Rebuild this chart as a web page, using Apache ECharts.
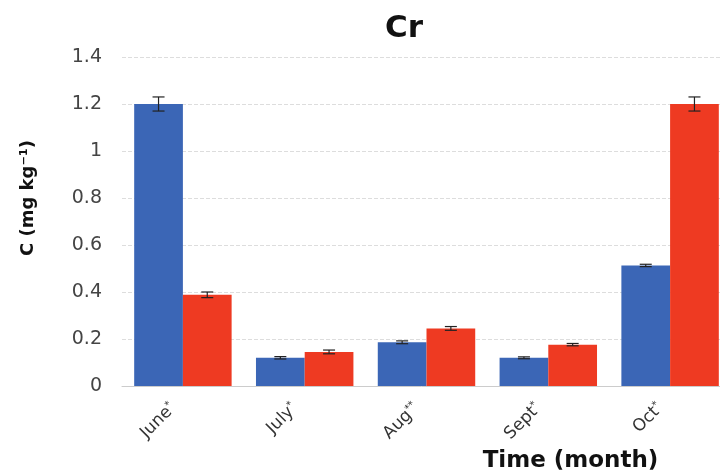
<!DOCTYPE html>
<html><head><meta charset="utf-8">
<script src="https://cdn.jsdelivr.net/npm/echarts@6/dist/echarts.min.js"></script>
<style>html,body{margin:0;padding:0;background:#fff}#c{width:720px;height:475px}</style>
</head><body><div id="c"></div>
<script>
const categories = ['June', 'July', 'Aug', 'Sept', 'Oct'];
const marks = ['*', '*', '**', '*', '*'];
const seriesA = [1.2, 0.12, 0.186, 0.12, 0.513];
const seriesB = [0.388, 0.145, 0.245, 0.176, 1.2];
const errA = [0.03, 0.005, 0.006, 0.004, 0.005];
const errB = [0.012, 0.008, 0.008, 0.005, 0.03];
const yTicks = [0, 0.2, 0.4, 0.6, 0.8, 1, 1.2, 1.4];

const blue = '#3b66b6', red = '#ee3a22';
const catGap = 0.2;
const FONT = 'DejaVu Sans, Liberation Sans, sans-serif';

function errSeries(vals, errs, side) {
  return {
    type: 'custom',
    z: 10,
    data: vals.map((v, i) => [i, v, errs[i]]),
    renderItem: function (params, api) {
      const i = api.value(0), v = api.value(1), e = api.value(2);
      const band = api.size([1, 0])[0];
      const bw = band * (1 - catGap) / 2;
      const c = api.coord([i, v]);
      const x = c[0] + side * bw / 2;
      const top = api.coord([i, v + e])[1];
      const bot = api.coord([i, v - e])[1];
      const cap = 6;
      const st = { stroke: '#222', lineWidth: 1.2 };
      return { type: 'group', children: [
        { type: 'line', shape: { x1: x, y1: top, x2: x, y2: bot }, style: st },
        { type: 'line', shape: { x1: x - cap, y1: top, x2: x + cap, y2: top }, style: st },
        { type: 'line', shape: { x1: x - cap, y1: bot, x2: x + cap, y2: bot }, style: st }
      ]};
    }
  };
}

const chart = echarts.init(document.getElementById('c'));
chart.setOption({
  backgroundColor: '#fff',
  animation: false,
  textStyle: { fontFamily: FONT },
  title: { text: 'Cr', left: 399, top: 8, textAlign: 'center',
    textStyle: { fontSize: 31, fontWeight: 'bold', color: '#111', fontFamily: FONT } },
  grid: { left: 122, top: 57, width: 609, height: 329, containLabel: false, outerBoundsMode: 'none' },
  xAxis: {
    type: 'category', data: categories,
    axisLine: { lineStyle: { color: '#ccc' } },
    axisTick: { show: false },
    axisLabel: {
      rotate: 45, color: '#333', fontSize: 17, margin: 10, padding: [0, 14, 0, 0],
      fontFamily: FONT,
      formatter: function (v, i) { return v + '{s|' + marks[i] + '}'; },
      rich: { s: { fontSize: 10, verticalAlign: 'top', color: '#333', padding: [0, 0, 8, 0], fontFamily: FONT } }
    },
    name: 'Time (month)', nameLocation: 'middle', nameGap: 64,
    nameTextStyle: { fontSize: 23, fontWeight: 'bold', color: '#111', padding: [0, 0, 0, 288], fontFamily: FONT }
  },
  yAxis: {
    type: 'value', min: 0, max: 1.4, interval: 0.2,
    axisLine: { show: false }, axisTick: { show: false },
    axisLabel: { color: '#444', fontSize: 19, margin: 20, fontFamily: FONT,
      formatter: function (v) { return String(Math.round(v * 10) / 10); } },
    splitLine: { lineStyle: { color: '#ddd', type: 'dashed' } }
  },
  graphic: [{
    type: 'text', left: 19, top: 140, rotation: Math.PI / 2,
    style: { text: 'C (mg kg\u207B\u00B9)', fontSize: 18, fontWeight: 'bold', fill: '#111',
      fontFamily: FONT }
  }],
  series: [
    { type: 'bar', data: seriesA, itemStyle: { color: blue }, barGap: '0%', barCategoryGap: '20%' },
    { type: 'bar', data: seriesB, itemStyle: { color: red }, barGap: '0%', barCategoryGap: '20%' },
    errSeries(seriesA, errA, -1),
    errSeries(seriesB, errB, 1)
  ]
});
</script></body></html>
